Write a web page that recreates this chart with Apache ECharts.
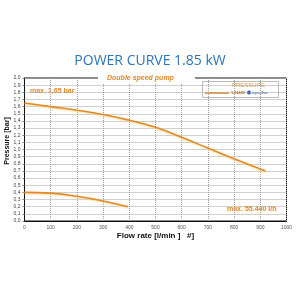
<!DOCTYPE html>
<html><head><meta charset="utf-8">
<script src="https://cdn.jsdelivr.net/npm/echarts@6/dist/echarts.min.js"></script>
<style>html,body{margin:0;padding:0;background:#fff}#c{width:300px;height:300px}</style>
</head><body><div id="c"></div>
<script>
var titleText = 'POWER CURVE 1.85 kW';
var subtitleText = 'Double speed pump';
var yName = 'Pressure [bar]';
var xName = 'Flow rate [l/min ]   #]';
var flowHigh = [0, 100, 200, 300, 400, 500, 600, 700, 800, 920];
var pressHigh = [1.65, 1.60, 1.55, 1.49, 1.41, 1.31, 1.17, 1.02, 0.87, 0.70];
var flowLow = [0, 100, 200, 300, 395];
var pressLow = [0.40, 0.39, 0.345, 0.28, 0.20];
var annMax = 'max. 1,65 bar';
var annFlow = 'max. 55.440 l/h';

var orange = '#e2892a';
function pairs(xs, ys){ return xs.map(function(x,i){return [x, ys[i]];}); }
var lineStyle = {color: orange, width: 1.6, shadowColor: 'rgba(250,210,120,0.8)', shadowBlur: 2, shadowOffsetY: 1};

var chart = echarts.init(document.getElementById('c'));
chart.setOption({
  animation: false,
  backgroundColor: '#fff',
  title: [
    {text: titleText, left: 'center', top: 49, textStyle: {fontFamily: 'Open Sans', fontWeight: 'normal', fontSize: 14, color: '#2c74b9'}},
    {text: subtitleText, left: 98, top: 74, backgroundColor: '#fff', padding: [1, 21, 1, 9],
     textStyle: {fontFamily: 'Liberation Sans', fontStyle: 'italic', fontWeight: 'bold', fontSize: 7, color: orange}}
  ],
  grid: {left: 24.5, right: 13.5, top: 78, bottom: 79, containLabel: false, outerBoundsMode: 'none',
    show: true, borderColor: '#111', borderWidth: 1, backgroundColor: 'transparent'},
  xAxis: {type: 'value', min: 0, max: 1000, interval: 100,
    name: xName, nameLocation: 'middle', nameGap: 11,
    nameTextStyle: {fontFamily: 'Liberation Sans', fontWeight: 'bold', fontSize: 8, color: '#111'},
    axisLine: {lineStyle: {color: '#111'}}, axisTick: {show: false},
    axisLabel: {fontSize: 5, color: '#555', margin: 4, fontFamily: 'Liberation Sans',
      formatter: function(v){ return String(v); }},
    splitLine: {lineStyle: {color: '#a0a0a0', type: 'dotted', width: 1}}},
  yAxis: {type: 'value', min: 0, max: 2, interval: 0.1,
    axisLine: {show: true, lineStyle: {color: '#111'}},
    axisTick: {show: true, length: 2, lineStyle: {color: '#888'}},
    axisLabel: {fontSize: 5, color: '#444', margin: 4, fontFamily: 'Liberation Sans',
      formatter: function(v){ return v.toFixed(1).replace('.', ','); }},
    splitLine: {lineStyle: {color: '#a0a0a0', type: 'dotted', width: 1}}},
  series: [
    {type: 'line', data: pairs(flowHigh, pressHigh), smooth: true, symbol: 'none', lineStyle: lineStyle},
    {type: 'line', data: pairs(flowLow, pressLow), smooth: true, symbol: 'none', lineStyle: lineStyle}
  ],
  graphic: [
    {type: 'text', x: 7.5, y: 141, rotation: Math.PI / 2,
     style: {text: yName, font: 'bold 7px "Liberation Sans"', fill: '#111', align: 'center', verticalAlign: 'middle'}},
    {type: 'text', left: 30, top: 88, style: {text: annMax, font: 'bold 7px "Liberation Sans"', fill: orange}},
    {type: 'text', left: 226, top: 205, style: {text: annFlow, font: 'bold 7px "Liberation Sans"', fill: orange, backgroundColor: '#fffaf0', padding: [1,1]}},
    {type: 'rect', left: 202, top: 81, shape: {width: 76, height: 16}, style: {fill: '#fff', stroke: '#bbb', lineWidth: 1}},
    {type: 'text', left: 232, top: 82, style: {text: 'PRESSURE', font: '6px "Liberation Sans"', fill: '#e0952e'}},
    {type: 'line', shape: {x1: 205, y1: 93, x2: 229, y2: 93}, style: {stroke: orange, lineWidth: 1.6}},
    {type: 'text', left: 231, top: 90.5, style: {text: '1,85kW', font: 'bold 4px "Liberation Sans"', fill: '#b05a10'}},
    {type: 'circle', shape: {cx: 249, cy: 92.5, r: 2}, style: {fill: '#2c5fa8'}},
    {type: 'text', left: 252, top: 90.5, style: {text: 'aquaflow', font: 'italic 4px "Liberation Sans"', fill: '#2c5fa8'}}
  ]
});
</script></body></html>
